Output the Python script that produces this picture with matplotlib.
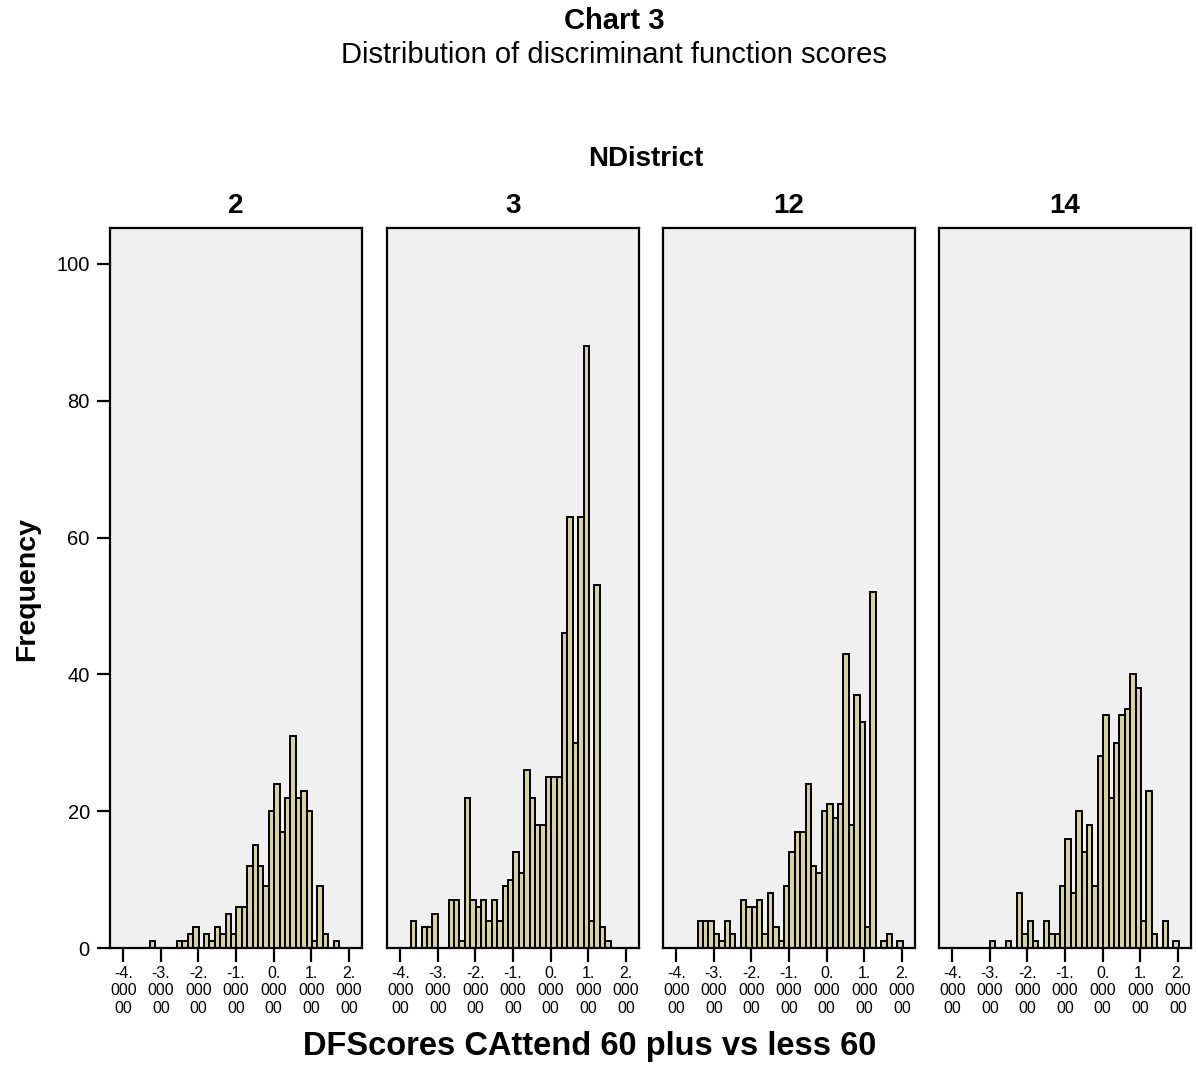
import matplotlib
import numpy as np
from matplotlib import pyplot as plt

matplotlib.use("agg")
plt.rcParams["font.family"] = ["Liberation Sans", "DejaVu Sans"]

# histogram bins shared by all panels
bin_start = -3.72
bin_width = 0.1436

districts = ["2", "3", "12", "14"]

# counts per bin (bin 0 .. 39)
counts_2 = [0, 0, 0, 1, 0, 0, 0, 0, 1, 1, 2, 3, 0, 2, 1, 3, 2, 5, 2, 6,
            6, 12, 15, 12, 9, 20, 24, 17, 22, 31, 22, 23, 20, 1, 9, 2, 0, 1, 0, 0]
counts_3 = [4, 0, 3, 3, 5, 0, 0, 7, 7, 1, 22, 7, 6, 7, 4, 7, 4, 9, 10, 14,
            11, 26, 22, 18, 18, 25, 25, 25, 46, 63, 30, 63, 88, 4, 53, 3, 1, 0, 0, 0]
counts_12 = [0, 0, 4, 4, 4, 2, 1, 4, 2, 0, 7, 6, 6, 7, 2, 8, 3, 1, 9, 14,
             17, 17, 24, 12, 11, 20, 21, 19, 21, 43, 18, 37, 33, 3, 52, 0, 1, 2, 0, 1]
counts_14 = [0, 0, 0, 0, 0, 1, 0, 0, 1, 0, 8, 2, 4, 1, 0, 4, 2, 2, 9, 16,
             8, 20, 14, 18, 9, 28, 34, 22, 30, 34, 35, 40, 38, 4, 23, 2, 0, 4, 0, 1]

x_ticks = [-4, -3, -2, -1, 0, 1, 2]
x_tick_labels = ["-4.\n000\n00", "-3.\n000\n00", "-2.\n000\n00", "-1.\n000\n00",
                 "0.\n000\n00", "1.\n000\n00", "2.\n000\n00"]
y_ticks = [0, 20, 40, 60, 80, 100]

W, H = 1198, 1070
fig = plt.figure(figsize=(W / 100, H / 100), dpi=100)

panel_lefts = [110, 387, 663, 939]
panel_w = 252
bottom_px, top_px = 948, 227.7

all_counts = [counts_2, counts_3, counts_12, counts_14]
for i, (name, counts) in enumerate(zip(districts, all_counts)):
    ax = fig.add_axes([panel_lefts[i] / W, 1 - bottom_px / H,
                       panel_w / W, (bottom_px - top_px) / H])
    ax.set_facecolor("#f0f0f0")
    counts = np.array(counts)
    edges = bin_start + bin_width * np.arange(len(counts))
    keep = counts > 0
    ax.bar(edges[keep], counts[keep], width=bin_width, align="edge",
           color="#d6d1a1", edgecolor="black", linewidth=1.4)
    ax.set_xlim(-4.354, 2.35)
    ax.set_ylim(0, 105.3)
    ax.set_xticks(x_ticks)
    ax.set_xticklabels(x_tick_labels, fontsize=11.5, linespacing=1.2)
    ax.tick_params(axis="x", direction="out", length=10, width=1.6, pad=3)
    for sp in ax.spines.values():
        sp.set_linewidth(1.6)
    if i == 0:
        ax.set_yticks(y_ticks)
        ax.tick_params(axis="y", direction="out", length=9.5, width=1.6,
                       labelsize=14.5, pad=5)
    else:
        ax.set_yticks([])
    fig.text((panel_lefts[i] + panel_w / 2) / W, 1 - 206 / H, name,
             ha="center", va="center", fontsize=20, fontweight="bold")

fig.text(614 / W, 1 - 21 / H, "Chart 3", ha="center", va="center",
         fontsize=21, fontweight="bold")
fig.text(614 / W, 1 - 55 / H, "Distribution of discriminant function scores",
         ha="center", va="center", fontsize=21)
fig.text(646 / W, 1 - 159 / H, "NDistrict", ha="center", va="center",
         fontsize=20, fontweight="bold")
fig.text(27 / W, 1 - 589 / H, "Frequency", ha="center", va="center",
         rotation=90, fontsize=20.5, fontweight="bold")
fig.text(590 / W, 1 - 1046 / H, "DFScores CAttend 60 plus vs less 60",
         ha="center", va="center", fontsize=23.5, fontweight="bold")

plt.savefig("out.png", dpi=100)
